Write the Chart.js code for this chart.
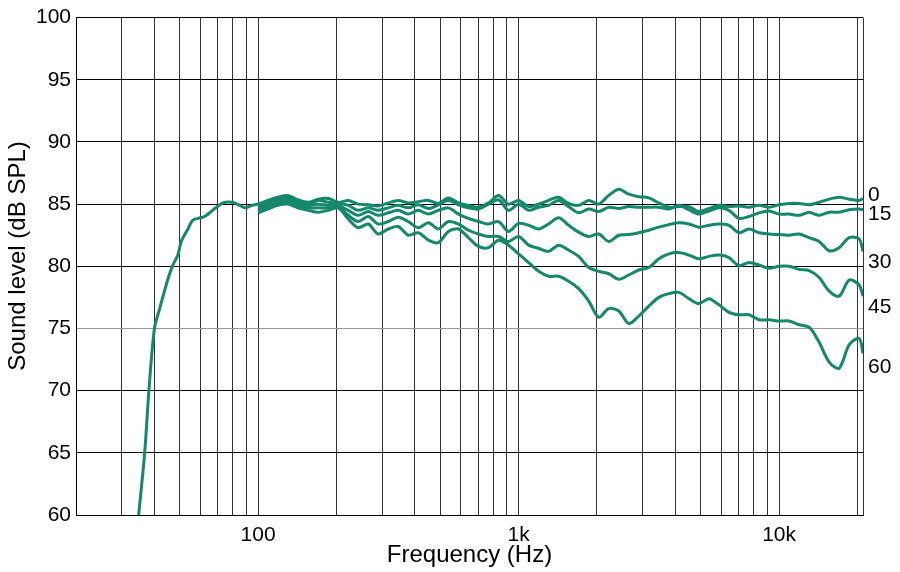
<!DOCTYPE html>
<html>
<head>
<meta charset="utf-8">
<script src="https://cdn.jsdelivr.net/npm/chart.js@4.4.1/dist/chart.umd.min.js"></script>
<style>
  html, body { margin: 0; padding: 0; background: #fff; }
  #wrap { width: 900px; height: 572px; }
</style>
</head>
<body>
<div id="wrap"><canvas id="chart" width="900" height="572"></canvas></div>
<script>
// low end of the on-axis curve (only the 0 deg response is drawn below 100 Hz)
const freqLowHz = [33.9, 34.8, 36.7, 38.1, 40, 41.9, 45.1, 47.1, 49.2, 50.7, 53.8, 56.1, 60, 62.4, 66.9, 73.3, 79.5, 84.2, 89.3, 94.8];
const level0Low = [57.6, 60, 65, 70, 75, 76.6, 79.0, 80.1, 80.9, 82.0, 83.0, 83.7, 83.9, 84.0, 84.5, 85.1, 85.15, 84.95, 84.7, 84.9];

// 100 Hz .. 21 kHz, shared by all angles
const freqHz = [100, 109, 119, 130, 142, 156, 170, 186, 203, 222, 242, 265, 289, 316, 345, 377, 412, 451, 492, 538,
  588, 642, 702, 767, 838, 915, 1000, 1093, 1194, 1304, 1425, 1557, 1701, 1859, 2031, 2219, 2424, 2649, 2894, 3162,
  3455, 3775, 4124, 4506, 4924, 5380, 5878, 6422, 7017, 7667, 8377, 9153, 10000, 10926, 11938, 13043, 14251, 15571, 17013, 18588,
  20310, 21000];

const level0 = [85.0, 85.3, 85.55, 85.7, 85.35, 85.15, 85.4, 85.45, 85.15, 85.3,
  85.0, 84.95, 84.85, 85.1, 85.3, 85.1, 85.2, 85.3, 85.05, 85.5,
  85.1, 84.9, 84.75, 85.1, 85.7, 85.0, 85.3, 84.8, 85.0, 85.3,
  85.55, 85.05, 84.9, 85.3, 85.0, 85.7, 86.2, 85.8, 85.6, 85.5,
  85.1, 84.75, 84.8, 84.8, 84.4, 84.65, 84.9, 84.8, 84.85, 84.75,
  84.9, 84.75, 84.95, 85.05, 85.05, 84.95, 85.15, 85.4, 85.55, 85.4,
  85.3, 85.45];
const level15 = [84.85, 85.15, 85.45, 85.55, 85.25, 85.0, 85.3, 85.15, 85.05, 84.9,
  84.5, 84.7, 84.5, 84.7, 84.9, 84.7, 84.95, 84.65, 84.95, 85.3,
  84.95, 84.7, 84.6, 85.0, 85.35, 84.5, 85.0, 84.5, 84.75, 84.9,
  85.3, 84.8, 84.3, 84.6, 84.4, 84.75, 84.65, 84.8, 84.75, 84.75,
  84.75, 84.6, 84.9, 84.55, 84.2, 84.45, 84.7, 84.5, 83.85, 84.0,
  84.3, 84.45, 84.2, 84.2, 84.1, 84.35, 84.1, 84.35, 84.35, 84.55,
  84.6, 84.55];
const level30 = [84.7, 85.0, 85.3, 85.4, 85.1, 84.9, 85.0, 84.9, 84.9, 84.5,
  84.1, 84.4, 84.1, 84.3, 84.5, 84.2, 84.5, 84.2, 84.5, 84.7,
  84.2, 83.85, 83.6, 83.4, 83.6, 82.8, 83.45, 83.3, 83.0, 83.4,
  83.9, 83.3, 82.75, 82.4, 82.6, 82.0, 82.5, 82.55, 82.7, 82.9,
  83.15, 83.35, 83.5, 83.4, 83.15, 83.3, 83.4, 83.3, 82.7, 83.0,
  82.7, 82.6, 82.55, 82.5, 82.6, 82.3, 82.0, 81.25, 81.5, 82.3,
  82.2, 81.2];
const level45 = [84.5, 84.8, 85.1, 85.2, 84.9, 84.7, 84.7, 84.7, 84.8, 84.1,
  83.6, 84.0, 83.4, 83.6, 83.95, 83.6, 83.1, 83.5, 83.0, 83.6,
  83.4, 82.9, 82.6, 82.4, 82.4, 82.0, 82.4, 81.7, 81.45, 81.2,
  81.7, 81.3, 80.8, 79.9, 79.6, 79.4, 78.95, 79.3, 79.7, 79.9,
  80.6, 81.0, 81.1, 80.9, 80.6, 80.8, 80.9, 80.7, 80.05, 80.3,
  80.1, 79.85, 80.0, 80.0, 79.75, 79.65, 79.1, 78.0, 77.6, 78.9,
  78.5, 77.6];
const level60 = [84.3, 84.6, 84.9, 85.0, 84.7, 84.5, 84.35, 84.5, 84.7, 83.8,
  83.1, 83.4, 82.6, 83.0, 83.2, 82.5, 82.7, 82.1, 81.9, 82.8,
  83.0, 82.3, 81.6, 81.5, 82.1, 81.7, 81.0, 80.3, 79.6, 79.2,
  79.2, 78.8, 78.2, 77.2, 75.9, 76.6, 76.4, 75.4, 76.0, 76.8,
  77.5, 77.8, 77.9, 77.4, 77.0, 77.4, 76.9, 76.3, 76.1, 76.1,
  75.7, 75.7, 75.6, 75.6, 75.3, 75.1, 73.9, 72.3, 71.8, 73.7,
  74.2, 73.0];

// angle labels on the right, placed at these levels (dB)
const angleLabels = ["0", "15", "30", "45", "60"];
const angleLabelLevels = [85.7, 84.2, 80.35, 76.7, 71.9];

// vertical grid lines and which of them carry a label
const gridFreqs = [20, 30, 40, 50, 60, 70, 80, 90, 100, 200, 300, 400, 500, 600, 700, 800, 900,
  1000, 2000, 3000, 4000, 5000, 6000, 7000, 8000, 9000, 10000, 20000, 21000];
const freqTickLabels = { 100: "100", 1000: "1k", 10000: "10k" };

const green = "#15876a";
const font = "'Liberation Sans', Arial, sans-serif";

function pts(fs, vs) {
  return fs.map((f, i) => ({ x: f, y: vs[i] }));
}

const frame = {
  id: "frame",
  afterDraw(chart) {
    const { ctx, chartArea, scales } = chart;
    ctx.save();
    ctx.fillStyle = "#000";
    ctx.font = "21px " + font;
    ctx.textAlign = "left";
    ctx.textBaseline = "middle";
    angleLabels.forEach((t, i) => {
      ctx.fillText(t, chartArea.right + 5, scales.y.getPixelForValue(angleLabelLevels[i]));
    });
    // y axis title
    ctx.translate(18, 256);
    ctx.rotate(-Math.PI / 2);
    ctx.textAlign = "center";
    ctx.font = "24px " + font;
    ctx.fillText("Sound level (dB SPL)", 0, 0);
    ctx.restore();
  }
};

const common = { borderColor: green, borderWidth: 3, pointRadius: 0, tension: 0.3, fill: false, clip: 0 };

new Chart(document.getElementById("chart"), {
  type: "line",
  data: {
    datasets: [
      { ...common, label: "60", data: pts(freqHz, level60) },
      { ...common, label: "45", data: pts(freqHz, level45) },
      { ...common, label: "30", data: pts(freqHz, level30) },
      { ...common, label: "15", data: pts(freqHz, level15) },
      { ...common, label: "0", data: pts(freqLowHz.concat(freqHz), level0Low.concat(level0)) }
    ]
  },
  options: {
    responsive: false,
    animation: false,
    layout: { padding: { top: 14, right: 37, left: 0, bottom: 0 } },
    plugins: { legend: { display: false }, tooltip: { enabled: false } },
    scales: {
      x: {
        type: "logarithmic",
        min: 20,
        max: 21000,
        afterBuildTicks: (scale) => { scale.ticks = gridFreqs.map(v => ({ value: v })); },
        afterFit: (scale) => { scale.height = 57; },
        ticks: {
          autoSkip: false,
          maxRotation: 0,
          padding: 8,
          color: "#000",
          font: { family: font, size: 21 },
          callback: (v) => freqTickLabels[v] || ""
        },
        grid: { color: "#333", lineWidth: 1, drawTicks: false },
        border: { color: "#000", width: 1 },
        title: {
          display: true,
          text: "Frequency (Hz)",
          color: "#000",
          font: { family: font, size: 24 },
          padding: { top: 0, bottom: 2 }
        }
      },
      y: {
        min: 60,
        max: 100,
        afterFit: (scale) => { scale.width = 76; },
        ticks: {
          stepSize: 5,
          padding: 5,
          color: "#000",
          font: { family: font, size: 21 }
        },
        grid: {
          color: (c) => (c.tick && c.tick.value === 75 ? "#999" : "#000"),
          lineWidth: 1,
          drawTicks: false
        },
        border: { color: "#000", width: 1 }
      }
    }
  },
  plugins: [frame]
});
</script>
</body>
</html>
